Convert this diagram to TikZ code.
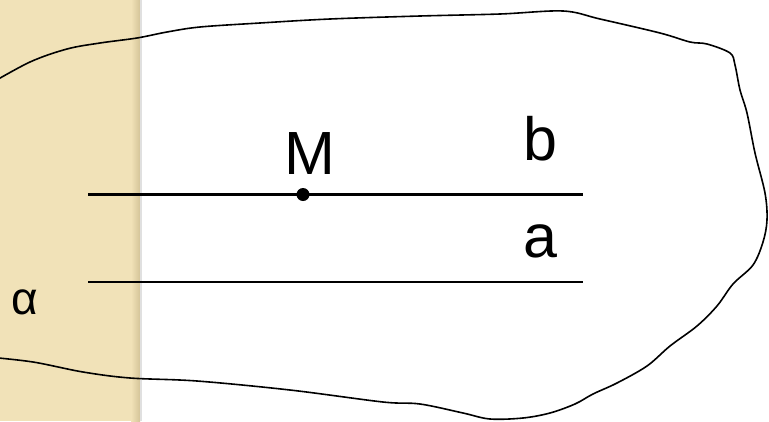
\documentclass[tikz,border=0pt]{standalone}
\usepackage{fontspec}
\setmainfont{Liberation Sans}
\usepackage{tikz}
\usepackage{xcolor}
\definecolor{parchment}{RGB}{241,226,184}
\definecolor{parchment-edge}{RGB}{212,196,152}
\tikzset{
    plane-line/.style = {draw=black, line width=2.1pt},
    plane-edge/.style = {draw=black, line width=1.6pt, smooth, tension=0.55},
    big-label/.style = {anchor=base, inner sep=0pt, font=\fontsize{61}{61}\selectfont},
    small-label/.style = {anchor=base, inner sep=0pt, font=\fontsize{46}{46}\selectfont},
}

\begin{document}
\begin{tikzpicture}[x=1pt, y=-1pt]
\useasboundingbox (0,0) rectangle (769,421);
\clip (0,0) rectangle (769,421);
% side strip
\fill[parchment] (0,0) rectangle (140,421);
\shade[left color=parchment, right color=parchment-edge] (131,0) rectangle (140,421);
\fill[black!12] (140,0) rectangle (142,421);
% the plane alpha
\draw[plane-edge] plot coordinates {
    (-12,85) (30,62) (67,49) (100,43) (137,38) (167,32) (200,27) (260,23)
    (330,19) (420,16) (500,14) (563,11) (600,19) (660,33) (690,42) (707,44)
    (730,53) (735,65) (740,90) (747,113) (755,153) (765,193) (767,220)
    (763,242) (753,265) (733,284) (717,306) (697,326) (670,346) (647,366)
    (617,383) (593,394) (575,404) (550,413) (523,418) (490,419) (463,413)
    (420,404) (383,402) (290,390) (197,381) (130,378) (83,372) (33,362)
    (-12,357)
};
% lines a and b
\coordinate (b-start) at (88,194.5);
\coordinate (b-end) at (583,194.5);
\coordinate (a-start) at (88,282);
\coordinate (a-end) at (583,282);
\draw[plane-line] (b-start) -- (b-end);
\draw[plane-line] (a-start) -- (a-end);
\node[circle, fill=black, inner sep=0pt, minimum size=13pt] (M) at (303,194.5) {};
\node[big-label] (M-label) at (309.5,174) {M};
\node[big-label] (b-label) at (540,160) {b};
\node[big-label] (a-label) at (540,257) {a};
\node[small-label] (alpha) at (25,314) {α};
\end{tikzpicture}
\end{document}
